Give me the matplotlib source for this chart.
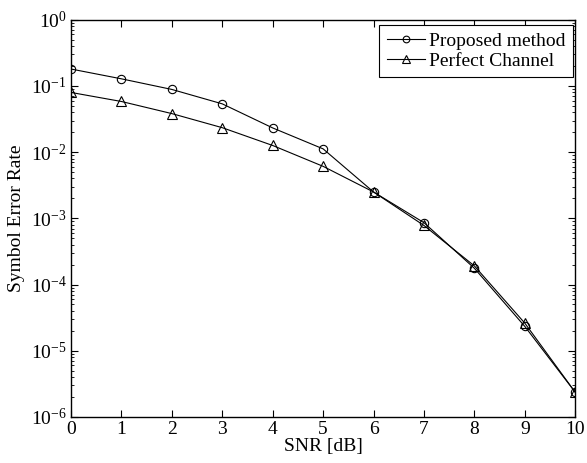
import matplotlib
matplotlib.use("Agg")
import matplotlib.pyplot as plt
from matplotlib.ticker import LogLocator, NullFormatter

snr_db = [0, 1, 2, 3, 4, 5, 6, 7, 8, 9, 10]
ser_proposed = [0.18, 0.128, 0.0885, 0.0536, 0.0232, 0.0112,
                0.0025, 8.6e-4, 1.76e-4, 2.33e-5, 2.36e-6]
ser_perfect = [0.0797, 0.0582, 0.0382, 0.0234, 0.0126, 0.0061,
               0.0025, 7.8e-4, 1.91e-4, 2.61e-5, 2.36e-6]

plt.rcParams["font.family"] = ["Liberation Serif", "DejaVu Serif"]
plt.rcParams["mathtext.fontset"] = "stix"
plt.rcParams["font.size"] = 14

fig = plt.figure(figsize=(5.87, 4.63), dpi=100)
ax = fig.add_axes([0.121, 0.0994, 0.859, 0.858])

ax.semilogy(snr_db, ser_proposed, color="black", linewidth=0.8, marker="o",
            markersize=6, markerfacecolor="none", markeredgewidth=0.8,
            label="Proposed method")
ax.semilogy(snr_db, ser_perfect, color="black", linewidth=0.8, marker="^",
            markersize=6.5, markerfacecolor="none", markeredgewidth=0.8,
            label="Perfect Channel")

ax.set_xlim(0, 10)
ax.set_ylim(1e-6, 1e0)
ax.set_xticks(range(0, 11))
ax.yaxis.set_major_locator(LogLocator(base=10, numticks=10))
ax.yaxis.set_minor_locator(LogLocator(base=10, subs=range(2, 10), numticks=10))
ax.yaxis.set_minor_formatter(NullFormatter())
ax.tick_params(which="both", direction="in", top=True, right=True, labelsize=14)
ax.tick_params(which="major", length=5, width=0.8)
ax.tick_params(which="minor", length=2.5, width=0.6)
ax.tick_params(axis="x", pad=3)
ax.tick_params(axis="y", pad=3)
for s in ax.spines.values():
    s.set_linewidth(1.0)

ax.set_xlabel("SNR [dB]", labelpad=0)
ax.set_ylabel("Symbol Error Rate", labelpad=4)

leg = ax.legend(loc="upper right", bbox_to_anchor=(0.996, 0.986),
                borderaxespad=0, fancybox=False, edgecolor="black",
                framealpha=1, handlelength=2.0, markerscale=0.8,
                borderpad=0.38, labelspacing=0.1, handletextpad=0.2)
leg.get_frame().set_linewidth(0.8)

fig.savefig("out.png", dpi=100)
